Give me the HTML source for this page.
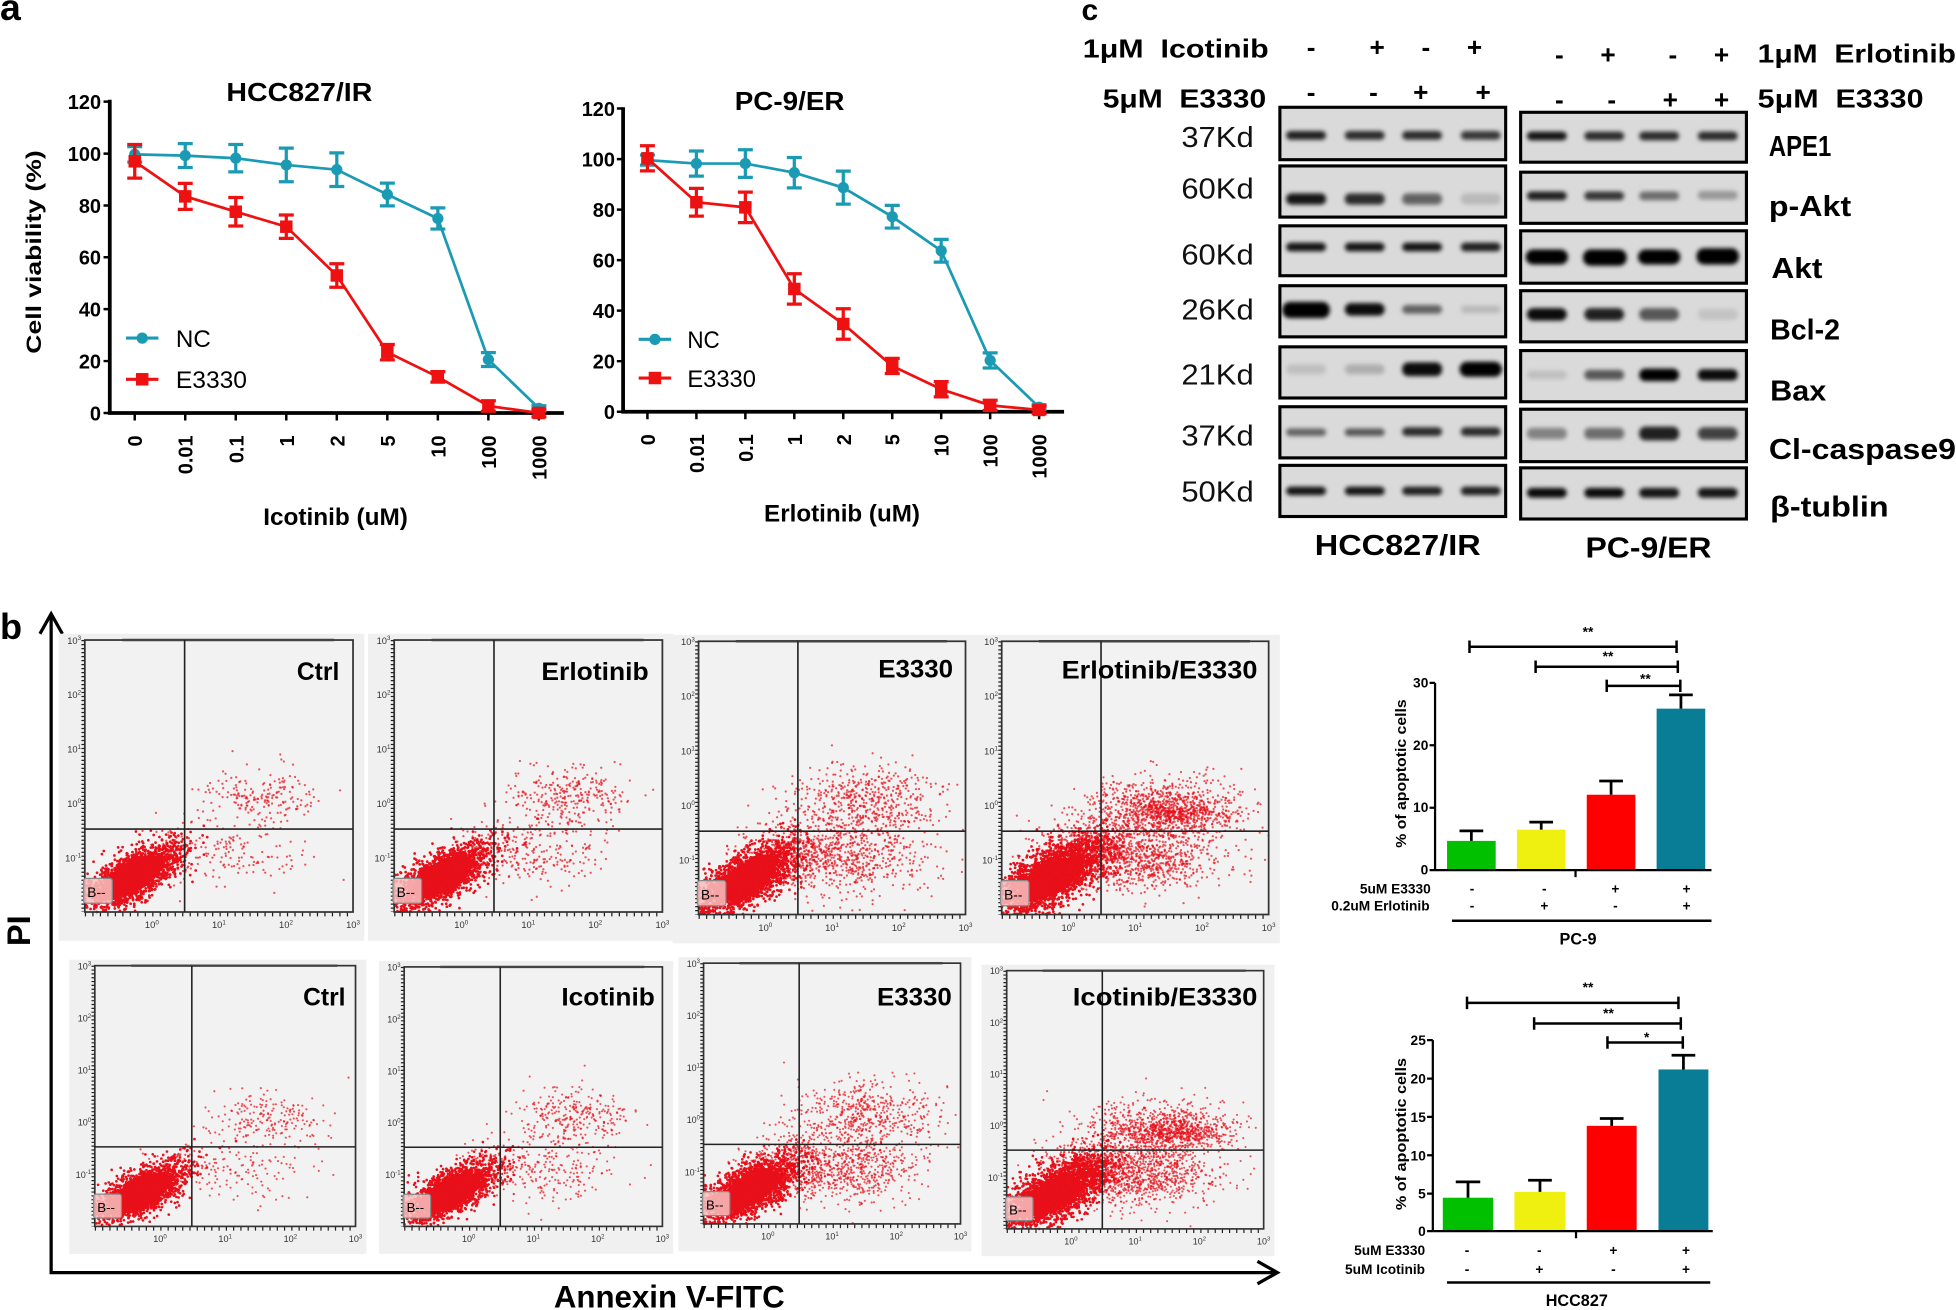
<!DOCTYPE html>
<html><head><meta charset="utf-8"><style>
html,body{margin:0;padding:0;background:#fff;}
svg{display:block;}
text{font-family:"Liberation Sans",Arial,"DejaVu Sans",sans-serif;}
</style></head><body>
<svg xmlns="http://www.w3.org/2000/svg" width="1956" height="1310" viewBox="0 0 1568 1050" preserveAspectRatio="none">
<defs>
<filter id="bl" x="-50%" y="-150%" width="200%" height="400%"><feGaussianBlur stdDeviation="1.8"/></filter>
</defs>
<rect width="1568" height="1050" fill="#fff"/>

<!-- ===== Panel letters ===== -->
<text x="0" y="16" font-size="30" font-weight="bold">a</text>
<text x="0" y="512" font-size="29" font-weight="bold">b</text>
<text x="867" y="16" font-size="24" font-weight="bold">c</text>

<!-- ===== Panel a : left chart ===== -->
<g>
<text x="240" y="81" font-size="21" font-weight="bold" text-anchor="middle" textLength="117" lengthAdjust="spacingAndGlyphs">HCC827/IR</text>
<text transform="translate(33,202) rotate(-90)" font-size="17" font-weight="bold" text-anchor="middle" textLength="163" lengthAdjust="spacingAndGlyphs">Cell viability (%)</text>
<path d="M88,80V331H452" fill="none" stroke="#000" stroke-width="3"/>
<path d="M83,81.5H88M83,123.1H88M83,164.7H88M83,206.2H88M83,247.8H88M83,289.4H88M83,331H88M108,331V337M148.5,331V337M189,331V337M229.5,331V337M270,331V337M310.5,331V337M351,331V337M391.5,331V337M432,331V337" stroke="#000" stroke-width="2"/>
<g font-size="16" font-weight="bold" text-anchor="end">
<text x="81" y="87.5">120</text><text x="81" y="129">100</text><text x="81" y="170.7">80</text><text x="81" y="212">60</text><text x="81" y="253.8">40</text><text x="81" y="295.4">20</text><text x="81" y="337">0</text>
<text transform="translate(114,349) rotate(-90)">0</text>
<text transform="translate(154.5,349) rotate(-90)">0.01</text>
<text transform="translate(195,349) rotate(-90)">0.1</text>
<text transform="translate(235.5,349) rotate(-90)">1</text>
<text transform="translate(276,349) rotate(-90)">2</text>
<text transform="translate(316.5,349) rotate(-90)">5</text>
<text transform="translate(357,349) rotate(-90)">10</text>
<text transform="translate(397.5,349) rotate(-90)">100</text>
<text transform="translate(438,349) rotate(-90)">1000</text>
</g>
<text x="269" y="421" font-size="19" font-weight="bold" text-anchor="middle" textLength="116" lengthAdjust="spacingAndGlyphs">Icotinib (uM)</text>
<!-- NC -->
<path d="M108,123.7L148.5,124.7L189,126.8L229.5,132.2L270,136L310.5,155.9L351,175.1L391.5,288.2L432,327.3" fill="none" stroke="#1a9bb3" stroke-width="2.2"/>
<path d="M108,117.5V129.9M102,117.5H114M102,129.9H114M148.5,115.1V134.3M142.5,115.1H154.5M142.5,134.3H154.5M189,115.8V137.8M183,115.8H195M183,137.8H195M229.5,118.7V145.7M223.5,118.7H235.5M223.5,145.7H235.5M270,122.5V149.5M264,122.5H276M264,149.5H276M310.5,146.8V165M304.5,146.8H316.5M304.5,165H316.5M351,166.6V183.6M345,166.6H357M345,183.6H357M391.5,282.6V293.8M385.5,282.6H397.5M385.5,293.8H397.5M432,325.2V329.4M426,325.2H438M426,329.4H438" fill="none" stroke="#1a9bb3" stroke-width="2.6"/>
<g fill="#1a9bb3"><circle cx="108" cy="123.7" r="4.5"/><circle cx="148.5" cy="124.7" r="4.5"/><circle cx="189" cy="126.8" r="4.5"/><circle cx="229.5" cy="132.2" r="4.5"/><circle cx="270" cy="136" r="4.5"/><circle cx="310.5" cy="155.9" r="4.5"/><circle cx="351" cy="175.1" r="4.5"/><circle cx="391.5" cy="288.2" r="4.5"/><circle cx="432" cy="327.3" r="4.5"/></g>
<!-- E3330 -->
<path d="M108,129.3L148.5,157.4L189,169.7L229.5,181.7L270,220.8L310.5,282.3L351,302.1L391.5,325.4L432,331" fill="none" stroke="#ee1111" stroke-width="2.2"/>
<path d="M108,115.8V142.8M102,115.8H114M102,142.8H114M148.5,147V167.8M142.5,147H154.5M142.5,167.8H154.5M189,158.3V181.1M183,158.3H195M183,181.1H195M229.5,172.3V191.1M223.5,172.3H235.5M223.5,191.1H235.5M270,211.4V230.2M264,211.4H276M264,230.2H276M310.5,276.1V288.5M304.5,276.1H316.5M304.5,288.5H316.5M351,297.9V306.3M345,297.9H357M345,306.3H357M391.5,321.2V329.6M385.5,321.2H397.5M385.5,329.6H397.5M432,327.9V334.1M426,327.9H438M426,334.1H438" fill="none" stroke="#ee1111" stroke-width="2.6"/>
<g fill="#ee1111"><rect x="103" y="124.3" width="10" height="10"/><rect x="143.5" y="152.4" width="10" height="10"/><rect x="184" y="164.7" width="10" height="10"/><rect x="224.5" y="176.7" width="10" height="10"/><rect x="265" y="215.8" width="10" height="10"/><rect x="305.5" y="277.3" width="10" height="10"/><rect x="346" y="297.1" width="10" height="10"/><rect x="386.5" y="320.4" width="10" height="10"/><rect x="427" y="326" width="10" height="10"/></g>
<!-- legend -->
<path d="M101,271H127" stroke="#1a9bb3" stroke-width="2.5"/><circle cx="114" cy="271" r="4.5" fill="#1a9bb3"/>
<path d="M101,304H127" stroke="#ee1111" stroke-width="2.5"/><rect x="109" y="299" width="10" height="10" fill="#ee1111"/>
<text x="141" y="278" font-size="19" textLength="28" lengthAdjust="spacingAndGlyphs">NC</text>
<text x="141" y="311" font-size="19" textLength="57" lengthAdjust="spacingAndGlyphs">E3330</text>
</g>

<!-- ===== Panel a : right chart ===== -->
<g>
<text x="633" y="88" font-size="21" font-weight="bold" text-anchor="middle" textLength="88" lengthAdjust="spacingAndGlyphs">PC-9/ER</text>
<path d="M499.5,86V330H853" fill="none" stroke="#000" stroke-width="3"/>
<path d="M494.5,87H499.5M494.5,127.5H499.5M494.5,168H499.5M494.5,208.5H499.5M494.5,249H499.5M494.5,289.5H499.5M494.5,330H499.5M519,330V336M558.25,330V336M597.5,330V336M636.75,330V336M676,330V336M715.25,330V336M754.5,330V336M793.75,330V336M833,330V336" stroke="#000" stroke-width="2"/>
<g font-size="16" font-weight="bold" text-anchor="end">
<text x="493" y="93">120</text><text x="493" y="133.5">100</text><text x="493" y="174">80</text><text x="493" y="214.5">60</text><text x="493" y="255">40</text><text x="493" y="295.5">20</text><text x="493" y="336">0</text>
<text transform="translate(525,348) rotate(-90)">0</text>
<text transform="translate(564.25,348) rotate(-90)">0.01</text>
<text transform="translate(603.5,348) rotate(-90)">0.1</text>
<text transform="translate(642.75,348) rotate(-90)">1</text>
<text transform="translate(682,348) rotate(-90)">2</text>
<text transform="translate(721.25,348) rotate(-90)">5</text>
<text transform="translate(760.5,348) rotate(-90)">10</text>
<text transform="translate(799.75,348) rotate(-90)">100</text>
<text transform="translate(839,348) rotate(-90)">1000</text>
</g>
<text x="675" y="418" font-size="19" font-weight="bold" text-anchor="middle" textLength="125" lengthAdjust="spacingAndGlyphs">Erlotinib (uM)</text>
<path d="M519,128.3L558.25,131.1L597.5,131.1L636.75,138.4L676,150.4L715.25,173.7L754.5,201L793.75,288.9L833,326.4" fill="none" stroke="#1a9bb3" stroke-width="2.2"/>
<path d="M519,124.2V132.4M513,124.2H525M513,132.4H525M558.25,121V141.2M552.25,121H564.25M552.25,141.2H564.25M597.5,120V142.2M591.5,120H603.5M591.5,142.2H603.5M636.75,126.2V150.6M630.75,126.2H642.75M630.75,150.6H642.75M676,137.2V163.6M670,137.2H682M670,163.6H682M715.25,164.6V182.8M709.25,164.6H721.25M709.25,182.8H721.25M754.5,191.9V210.1M748.5,191.9H760.5M748.5,210.1H760.5M793.75,282.8V295M787.75,282.8H799.75M787.75,295H799.75M833,324.4V328.4M827,324.4H839M827,328.4H839" fill="none" stroke="#1a9bb3" stroke-width="2.6"/>
<g fill="#1a9bb3"><circle cx="519" cy="128.3" r="4.5"/><circle cx="558.25" cy="131.1" r="4.5"/><circle cx="597.5" cy="131.1" r="4.5"/><circle cx="636.75" cy="138.4" r="4.5"/><circle cx="676" cy="150.4" r="4.5"/><circle cx="715.25" cy="173.7" r="4.5"/><circle cx="754.5" cy="201" r="4.5"/><circle cx="793.75" cy="288.9" r="4.5"/><circle cx="833" cy="326.4" r="4.5"/></g>
<path d="M519,126.9L558.25,162.1L597.5,166.2L636.75,231.6L676,259.7L715.25,293.3L754.5,312L793.75,324.9L833,328.6" fill="none" stroke="#ee1111" stroke-width="2.2"/>
<path d="M519,116.8V137M513,116.8H525M513,137H525M558.25,151V173.2M552.25,151H564.25M552.25,173.2H564.25M597.5,154V178.4M591.5,154H603.5M591.5,178.4H603.5M636.75,219.4V243.8M630.75,219.4H642.75M630.75,243.8H642.75M676,247.5V271.9M670,247.5H682M670,271.9H682M715.25,287.2V299.4M709.25,287.2H721.25M709.25,299.4H721.25M754.5,305.9V318.1M748.5,305.9H760.5M748.5,318.1H760.5M793.75,320.8V329M787.75,320.8H799.75M787.75,329H799.75M833,325.6V331.6M827,325.6H839M827,331.6H839" fill="none" stroke="#ee1111" stroke-width="2.6"/>
<g fill="#ee1111"><rect x="514" y="121.9" width="10" height="10"/><rect x="553.25" y="157.1" width="10" height="10"/><rect x="592.5" y="161.2" width="10" height="10"/><rect x="631.75" y="226.6" width="10" height="10"/><rect x="671" y="254.7" width="10" height="10"/><rect x="710.25" y="288.3" width="10" height="10"/><rect x="749.5" y="307" width="10" height="10"/><rect x="788.75" y="319.9" width="10" height="10"/><rect x="828" y="323.6" width="10" height="10"/></g>
<path d="M512,272H538" stroke="#1a9bb3" stroke-width="2.5"/><circle cx="525" cy="272" r="4.5" fill="#1a9bb3"/>
<path d="M512,303H538" stroke="#ee1111" stroke-width="2.5"/><rect x="520" y="298" width="10" height="10" fill="#ee1111"/>
<text x="551" y="279" font-size="19" textLength="26" lengthAdjust="spacingAndGlyphs">NC</text>
<text x="551" y="310" font-size="19" textLength="55" lengthAdjust="spacingAndGlyphs">E3330</text>
</g>

<!-- ===== Panel c : western blot ===== -->
<g font-weight="bold" font-size="21">
<text x="868" y="46" textLength="149" lengthAdjust="spacingAndGlyphs">1μM&#160; Icotinib</text>
<text x="884" y="86" textLength="131" lengthAdjust="spacingAndGlyphs">5μM&#160; E3330</text>
<text x="1409" y="50" textLength="159" lengthAdjust="spacingAndGlyphs">1μM&#160; Erlotinib</text>
<text x="1409" y="86" textLength="133" lengthAdjust="spacingAndGlyphs">5μM&#160; E3330</text>
<g text-anchor="middle">
<text x="1051" y="45">-</text><text x="1104" y="45">+</text><text x="1143" y="45">-</text><text x="1182" y="45">+</text>
<text x="1250" y="51">-</text><text x="1289" y="51">+</text><text x="1341" y="51">-</text><text x="1380" y="51">+</text>
<text x="1051" y="81">-</text><text x="1101" y="81">-</text><text x="1139" y="81">+</text><text x="1189" y="81">+</text>
<text x="1250" y="87">-</text><text x="1292" y="87">-</text><text x="1339" y="87">+</text><text x="1380" y="87">+</text>
</g>
</g>
<g font-size="23" text-anchor="end" fill="#111">
<text x="1005" y="118" textLength="58" lengthAdjust="spacingAndGlyphs">37Kd</text>
<text x="1005" y="159" textLength="58" lengthAdjust="spacingAndGlyphs">60Kd</text>
<text x="1005" y="212" textLength="58" lengthAdjust="spacingAndGlyphs">60Kd</text>
<text x="1005" y="256" textLength="58" lengthAdjust="spacingAndGlyphs">26Kd</text>
<text x="1005" y="308" textLength="58" lengthAdjust="spacingAndGlyphs">21Kd</text>
<text x="1005" y="357" textLength="58" lengthAdjust="spacingAndGlyphs">37Kd</text>
<text x="1005" y="402" textLength="58" lengthAdjust="spacingAndGlyphs">50Kd</text>
</g>
<g font-size="23" font-weight="bold">
<text x="1418" y="125" textLength="50" lengthAdjust="spacingAndGlyphs">APE1</text>
<text x="1418" y="173" textLength="66" lengthAdjust="spacingAndGlyphs">p-Akt</text>
<text x="1420" y="223" textLength="41" lengthAdjust="spacingAndGlyphs">Akt</text>
<text x="1419" y="272" textLength="56" lengthAdjust="spacingAndGlyphs">Bcl-2</text>
<text x="1419" y="321" textLength="45" lengthAdjust="spacingAndGlyphs">Bax</text>
<text x="1418" y="368" textLength="150" lengthAdjust="spacingAndGlyphs">Cl-caspase9</text>
<text x="1419" y="414" textLength="95" lengthAdjust="spacingAndGlyphs">β-tublin</text>
<text x="1054" y="445" textLength="133" lengthAdjust="spacingAndGlyphs">HCC827/IR</text>
<text x="1271" y="447" textLength="101" lengthAdjust="spacingAndGlyphs">PC-9/ER</text>
</g>
<!-- blot boxes -->
<g fill="#dadada" stroke="#000" stroke-width="2.5">
<rect x="1026" y="86" width="181" height="42"/><rect x="1026" y="133" width="181" height="41"/><rect x="1026" y="181" width="181" height="40"/><rect x="1026" y="229" width="181" height="41"/><rect x="1026" y="278" width="181" height="41"/><rect x="1026" y="326" width="181" height="41"/><rect x="1026" y="373" width="181" height="41"/>
<rect x="1219" y="90" width="181" height="40"/><rect x="1219" y="138" width="181" height="41"/><rect x="1219" y="185" width="181" height="42"/><rect x="1219" y="233" width="181" height="41"/><rect x="1219" y="281" width="181" height="41"/><rect x="1219" y="328" width="181" height="42"/><rect x="1219" y="375" width="181" height="41"/>
</g>
<g fill="#000" filter="url(#bl)">
<!-- APE1 -->
<rect x="1031" y="105" width="32" height="7" rx="3.5" fill-opacity=".85"/><rect x="1078" y="105" width="32" height="7" rx="3.5" fill-opacity=".8"/><rect x="1124" y="105" width="32" height="7" rx="3.5" fill-opacity=".8"/><rect x="1171" y="105" width="32" height="7" rx="3.5" fill-opacity=".75"/>
<rect x="1224" y="105.5" width="32" height="7" rx="3.5" fill-opacity=".9"/><rect x="1270" y="105.5" width="32" height="7" rx="3.5" fill-opacity=".8"/><rect x="1314" y="105.5" width="32" height="7" rx="3.5" fill-opacity=".8"/><rect x="1361" y="105.5" width="32" height="7" rx="3.5" fill-opacity=".8"/>
<!-- p-Akt -->
<rect x="1031" y="155" width="32" height="9" rx="4" fill-opacity=".9"/><rect x="1078" y="155" width="32" height="9" rx="4" fill-opacity=".8"/><rect x="1124" y="155" width="32" height="9" rx="4" fill-opacity=".55"/><rect x="1171" y="155" width="32" height="9" rx="4" fill-opacity=".15"/>
<rect x="1224" y="153.5" width="32" height="7" rx="3.5" fill-opacity=".85"/><rect x="1270" y="153.5" width="32" height="7" rx="3.5" fill-opacity=".75"/><rect x="1314" y="153.5" width="32" height="7" rx="3.5" fill-opacity=".5"/><rect x="1361" y="153" width="32" height="7" rx="3.5" fill-opacity=".3"/>
<!-- Akt -->
<rect x="1031" y="194.5" width="32" height="7" rx="3.5" fill-opacity=".9"/><rect x="1078" y="194.5" width="32" height="7" rx="3.5" fill-opacity=".9"/><rect x="1124" y="194.5" width="32" height="7" rx="3.5" fill-opacity=".9"/><rect x="1171" y="194.5" width="32" height="7" rx="3.5" fill-opacity=".85"/>
<rect x="1223" y="200" width="34" height="12" rx="6"/><rect x="1269" y="200" width="35" height="13" rx="6"/><rect x="1313" y="200" width="34" height="12" rx="6"/><rect x="1360" y="199" width="34" height="13" rx="6"/>
<!-- Bcl-2 -->
<rect x="1028" y="242" width="38" height="13" rx="6"/><rect x="1078" y="243" width="32" height="10" rx="5" fill-opacity=".95"/><rect x="1124" y="244.5" width="32" height="7" rx="3.5" fill-opacity=".55"/><rect x="1171" y="245" width="32" height="6" rx="3" fill-opacity=".15"/>
<rect x="1224" y="247" width="32" height="10" rx="5" fill-opacity=".95"/><rect x="1270" y="247" width="32" height="10" rx="5" fill-opacity=".85"/><rect x="1314" y="247" width="32" height="10" rx="5" fill-opacity=".6"/><rect x="1361" y="247.5" width="32" height="9" rx="4" fill-opacity=".1"/>
<!-- Bax -->
<rect x="1031" y="292" width="32" height="8" rx="4" fill-opacity=".12"/><rect x="1078" y="292" width="32" height="8" rx="4" fill-opacity=".2"/><rect x="1124" y="290.5" width="32" height="11" rx="5" fill-opacity=".95"/><rect x="1170" y="290" width="34" height="12" rx="6"/>
<rect x="1224" y="297" width="32" height="7" rx="3.5" fill-opacity=".12"/><rect x="1270" y="296.5" width="32" height="8" rx="4" fill-opacity=".6"/><rect x="1314" y="295.5" width="32" height="10" rx="5"/><rect x="1361" y="296" width="32" height="9" rx="4" fill-opacity=".95"/>
<!-- Cl-caspase9 -->
<rect x="1031" y="343.5" width="32" height="6" rx="3" fill-opacity=".55"/><rect x="1078" y="343.5" width="32" height="6" rx="3" fill-opacity=".6"/><rect x="1124" y="342.5" width="32" height="7" rx="3.5" fill-opacity=".8"/><rect x="1171" y="342.5" width="32" height="7" rx="3.5" fill-opacity=".8"/>
<rect x="1224" y="343" width="32" height="9" rx="4" fill-opacity=".4"/><rect x="1270" y="343" width="32" height="9" rx="4" fill-opacity=".5"/><rect x="1314" y="342" width="32" height="11" rx="5" fill-opacity=".85"/><rect x="1361" y="342.5" width="32" height="10" rx="5" fill-opacity=".7"/>
<!-- beta-tubulin -->
<rect x="1031" y="390" width="32" height="7" rx="3.5" fill-opacity=".9"/><rect x="1078" y="390" width="32" height="7" rx="3.5" fill-opacity=".9"/><rect x="1124" y="390" width="32" height="7" rx="3.5" fill-opacity=".85"/><rect x="1171" y="390" width="32" height="7" rx="3.5" fill-opacity=".85"/>
<rect x="1224" y="391" width="32" height="8" rx="4" fill-opacity=".95"/><rect x="1270" y="391" width="32" height="8" rx="4" fill-opacity=".95"/><rect x="1314" y="391" width="32" height="8" rx="4" fill-opacity=".9"/><rect x="1361" y="391" width="32" height="8" rx="4" fill-opacity=".9"/>
</g>

<!-- ===== Panel b : flow cytometry ===== -->
<path d="M41,494V1020H1022" fill="none" stroke="#000" stroke-width="2.6"/>
<path d="M32,508L41,492L50,508M1008,1011L1024,1020L1008,1029" fill="none" stroke="#000" stroke-width="2.6"/>
<text transform="translate(24,746) rotate(-90)" font-size="26" font-weight="bold" text-anchor="middle">PI</text>
<text x="444" y="1048" font-size="25" font-weight="bold" textLength="185" lengthAdjust="spacingAndGlyphs">Annexin V-FITC</text>

<g transform="translate(68,513) scale(1,1)">
<rect x="-21" y="-5" width="245" height="246" fill="#f0f0f0"/>
<rect x="0" y="0" width="215" height="218" fill="#f2f2f2"/>
<ellipse cx="38" cy="190" rx="27" ry="12" transform="rotate(-30 38 190)" fill="#ee0a0a"/>
<g class="dots ctrl" fill="#e8101a"></g>
<rect x="0" y="0" width="215" height="218" fill="none" stroke="#333" stroke-width="1.4"/>
<path d="M30,0H200" stroke="#444" stroke-width="2"/>
<path d="M80,0V218M0,151.5H215" stroke="#222" stroke-width="1.3"/>
<path d="M-1.5,0V218" stroke="#222" stroke-width="2.5" stroke-dasharray="1 2.2"/>
<path d="M0,220H215" stroke="#222" stroke-width="3" stroke-dasharray="1 5"/>
<rect x="-1" y="191" width="23" height="20" rx="2" fill="#f7c0c0" fill-opacity=".85" stroke="#888"/><text x="2" y="206" font-size="11">B--</text>
<g font-size="7.5" fill="#333" text-anchor="end"><text x="-3" y="3">10<tspan dy="-3" font-size="5">3</tspan></text><text x="-3" y="46.6">10<tspan dy="-3" font-size="5">2</tspan></text><text x="-3" y="90.2">10<tspan dy="-3" font-size="5">1</tspan></text><text x="-3" y="133.8">10<tspan dy="-3" font-size="5">0</tspan></text><text x="-3" y="177.4">10<tspan dy="-3" font-size="5">-1</tspan></text></g>
<g font-size="7.5" fill="#333" text-anchor="middle"><text x="53.75" y="231">10<tspan dy="-3" font-size="5">0</tspan></text><text x="107.5" y="231">10<tspan dy="-3" font-size="5">1</tspan></text><text x="161.25" y="231">10<tspan dy="-3" font-size="5">2</tspan></text><text x="215" y="231">10<tspan dy="-3" font-size="5">3</tspan></text></g>
</g>

<g transform="translate(316,513) scale(1,1)">
<rect x="-21" y="-5" width="245" height="246" fill="#f0f0f0"/>
<rect x="0" y="0" width="215" height="218" fill="#f2f2f2"/>
<ellipse cx="38" cy="190" rx="27" ry="12" transform="rotate(-30 38 190)" fill="#ee0a0a"/>
<g class="dots mid" fill="#e8101a"></g>
<rect x="0" y="0" width="215" height="218" fill="none" stroke="#333" stroke-width="1.4"/>
<path d="M30,0H200" stroke="#444" stroke-width="2"/>
<path d="M80,0V218M0,151.5H215" stroke="#222" stroke-width="1.3"/>
<path d="M-1.5,0V218" stroke="#222" stroke-width="2.5" stroke-dasharray="1 2.2"/>
<path d="M0,220H215" stroke="#222" stroke-width="3" stroke-dasharray="1 5"/>
<rect x="-1" y="191" width="23" height="20" rx="2" fill="#f7c0c0" fill-opacity=".85" stroke="#888"/><text x="2" y="206" font-size="11">B--</text>
<g font-size="7.5" fill="#333" text-anchor="end"><text x="-3" y="3">10<tspan dy="-3" font-size="5">3</tspan></text><text x="-3" y="46.6">10<tspan dy="-3" font-size="5">2</tspan></text><text x="-3" y="90.2">10<tspan dy="-3" font-size="5">1</tspan></text><text x="-3" y="133.8">10<tspan dy="-3" font-size="5">0</tspan></text><text x="-3" y="177.4">10<tspan dy="-3" font-size="5">-1</tspan></text></g>
<g font-size="7.5" fill="#333" text-anchor="middle"><text x="53.75" y="231">10<tspan dy="-3" font-size="5">0</tspan></text><text x="107.5" y="231">10<tspan dy="-3" font-size="5">1</tspan></text><text x="161.25" y="231">10<tspan dy="-3" font-size="5">2</tspan></text><text x="215" y="231">10<tspan dy="-3" font-size="5">3</tspan></text></g>
</g>

<g transform="translate(560,514) scale(0.9953,1.0046)">
<rect x="-21" y="-5" width="245" height="246" fill="#f0f0f0"/>
<rect x="0" y="0" width="215" height="218" fill="#f2f2f2"/>
<ellipse cx="38" cy="190" rx="27" ry="12" transform="rotate(-30 38 190)" fill="#ee0a0a"/>
<g class="dots e3" fill="#e8101a"></g>
<rect x="0" y="0" width="215" height="218" fill="none" stroke="#333" stroke-width="1.4"/>
<path d="M30,0H200" stroke="#444" stroke-width="2"/>
<path d="M80,0V218M0,151.5H215" stroke="#222" stroke-width="1.3"/>
<path d="M-1.5,0V218" stroke="#222" stroke-width="2.5" stroke-dasharray="1 2.2"/>
<path d="M0,220H215" stroke="#222" stroke-width="3" stroke-dasharray="1 5"/>
<rect x="-1" y="191" width="23" height="20" rx="2" fill="#f7c0c0" fill-opacity=".85" stroke="#888"/><text x="2" y="206" font-size="11">B--</text>
<g font-size="7.5" fill="#333" text-anchor="end"><text x="-3" y="3">10<tspan dy="-3" font-size="5">3</tspan></text><text x="-3" y="46.6">10<tspan dy="-3" font-size="5">2</tspan></text><text x="-3" y="90.2">10<tspan dy="-3" font-size="5">1</tspan></text><text x="-3" y="133.8">10<tspan dy="-3" font-size="5">0</tspan></text><text x="-3" y="177.4">10<tspan dy="-3" font-size="5">-1</tspan></text></g>
<g font-size="7.5" fill="#333" text-anchor="middle"><text x="53.75" y="231">10<tspan dy="-3" font-size="5">0</tspan></text><text x="107.5" y="231">10<tspan dy="-3" font-size="5">1</tspan></text><text x="161.25" y="231">10<tspan dy="-3" font-size="5">2</tspan></text><text x="215" y="231">10<tspan dy="-3" font-size="5">3</tspan></text></g>
</g>

<g transform="translate(803,514) scale(0.9953,1.0046)">
<rect x="-21" y="-5" width="245" height="246" fill="#f0f0f0"/>
<rect x="0" y="0" width="215" height="218" fill="#f2f2f2"/>
<ellipse cx="38" cy="190" rx="27" ry="12" transform="rotate(-30 38 190)" fill="#ee0a0a"/>
<g class="dots co" fill="#e8101a"></g>
<rect x="0" y="0" width="215" height="218" fill="none" stroke="#333" stroke-width="1.4"/>
<path d="M30,0H200" stroke="#444" stroke-width="2"/>
<path d="M80,0V218M0,151.5H215" stroke="#222" stroke-width="1.3"/>
<path d="M-1.5,0V218" stroke="#222" stroke-width="2.5" stroke-dasharray="1 2.2"/>
<path d="M0,220H215" stroke="#222" stroke-width="3" stroke-dasharray="1 5"/>
<rect x="-1" y="191" width="23" height="20" rx="2" fill="#f7c0c0" fill-opacity=".85" stroke="#888"/><text x="2" y="206" font-size="11">B--</text>
<g font-size="7.5" fill="#333" text-anchor="end"><text x="-3" y="3">10<tspan dy="-3" font-size="5">3</tspan></text><text x="-3" y="46.6">10<tspan dy="-3" font-size="5">2</tspan></text><text x="-3" y="90.2">10<tspan dy="-3" font-size="5">1</tspan></text><text x="-3" y="133.8">10<tspan dy="-3" font-size="5">0</tspan></text><text x="-3" y="177.4">10<tspan dy="-3" font-size="5">-1</tspan></text></g>
<g font-size="7.5" fill="#333" text-anchor="middle"><text x="53.75" y="231">10<tspan dy="-3" font-size="5">0</tspan></text><text x="107.5" y="231">10<tspan dy="-3" font-size="5">1</tspan></text><text x="161.25" y="231">10<tspan dy="-3" font-size="5">2</tspan></text><text x="215" y="231">10<tspan dy="-3" font-size="5">3</tspan></text></g>
</g>

<g transform="translate(76,774) scale(0.9721,0.9587)">
<rect x="-21" y="-5" width="245" height="246" fill="#f0f0f0"/>
<rect x="0" y="0" width="215" height="218" fill="#f2f2f2"/>
<ellipse cx="38" cy="190" rx="27" ry="12" transform="rotate(-30 38 190)" fill="#ee0a0a"/>
<g class="dots ctrl" fill="#e8101a"></g>
<rect x="0" y="0" width="215" height="218" fill="none" stroke="#333" stroke-width="1.4"/>
<path d="M30,0H200" stroke="#444" stroke-width="2"/>
<path d="M80,0V218M0,151.5H215" stroke="#222" stroke-width="1.3"/>
<path d="M-1.5,0V218" stroke="#222" stroke-width="2.5" stroke-dasharray="1 2.2"/>
<path d="M0,220H215" stroke="#222" stroke-width="3" stroke-dasharray="1 5"/>
<rect x="-1" y="191" width="23" height="20" rx="2" fill="#f7c0c0" fill-opacity=".85" stroke="#888"/><text x="2" y="206" font-size="11">B--</text>
<g font-size="7.5" fill="#333" text-anchor="end"><text x="-3" y="3">10<tspan dy="-3" font-size="5">3</tspan></text><text x="-3" y="46.6">10<tspan dy="-3" font-size="5">2</tspan></text><text x="-3" y="90.2">10<tspan dy="-3" font-size="5">1</tspan></text><text x="-3" y="133.8">10<tspan dy="-3" font-size="5">0</tspan></text><text x="-3" y="177.4">10<tspan dy="-3" font-size="5">-1</tspan></text></g>
<g font-size="7.5" fill="#333" text-anchor="middle"><text x="53.75" y="231">10<tspan dy="-3" font-size="5">0</tspan></text><text x="107.5" y="231">10<tspan dy="-3" font-size="5">1</tspan></text><text x="161.25" y="231">10<tspan dy="-3" font-size="5">2</tspan></text><text x="215" y="231">10<tspan dy="-3" font-size="5">3</tspan></text></g>
</g>

<g transform="translate(324,775) scale(0.9628,0.9541)">
<rect x="-21" y="-5" width="245" height="246" fill="#f0f0f0"/>
<rect x="0" y="0" width="215" height="218" fill="#f2f2f2"/>
<ellipse cx="38" cy="190" rx="27" ry="12" transform="rotate(-30 38 190)" fill="#ee0a0a"/>
<g class="dots mid" fill="#e8101a"></g>
<rect x="0" y="0" width="215" height="218" fill="none" stroke="#333" stroke-width="1.4"/>
<path d="M30,0H200" stroke="#444" stroke-width="2"/>
<path d="M80,0V218M0,151.5H215" stroke="#222" stroke-width="1.3"/>
<path d="M-1.5,0V218" stroke="#222" stroke-width="2.5" stroke-dasharray="1 2.2"/>
<path d="M0,220H215" stroke="#222" stroke-width="3" stroke-dasharray="1 5"/>
<rect x="-1" y="191" width="23" height="20" rx="2" fill="#f7c0c0" fill-opacity=".85" stroke="#888"/><text x="2" y="206" font-size="11">B--</text>
<g font-size="7.5" fill="#333" text-anchor="end"><text x="-3" y="3">10<tspan dy="-3" font-size="5">3</tspan></text><text x="-3" y="46.6">10<tspan dy="-3" font-size="5">2</tspan></text><text x="-3" y="90.2">10<tspan dy="-3" font-size="5">1</tspan></text><text x="-3" y="133.8">10<tspan dy="-3" font-size="5">0</tspan></text><text x="-3" y="177.4">10<tspan dy="-3" font-size="5">-1</tspan></text></g>
<g font-size="7.5" fill="#333" text-anchor="middle"><text x="53.75" y="231">10<tspan dy="-3" font-size="5">0</tspan></text><text x="107.5" y="231">10<tspan dy="-3" font-size="5">1</tspan></text><text x="161.25" y="231">10<tspan dy="-3" font-size="5">2</tspan></text><text x="215" y="231">10<tspan dy="-3" font-size="5">3</tspan></text></g>
</g>

<g transform="translate(564,772) scale(0.9581,0.9587)">
<rect x="-21" y="-5" width="245" height="246" fill="#f0f0f0"/>
<rect x="0" y="0" width="215" height="218" fill="#f2f2f2"/>
<ellipse cx="38" cy="190" rx="27" ry="12" transform="rotate(-30 38 190)" fill="#ee0a0a"/>
<g class="dots e3" fill="#e8101a"></g>
<rect x="0" y="0" width="215" height="218" fill="none" stroke="#333" stroke-width="1.4"/>
<path d="M30,0H200" stroke="#444" stroke-width="2"/>
<path d="M80,0V218M0,151.5H215" stroke="#222" stroke-width="1.3"/>
<path d="M-1.5,0V218" stroke="#222" stroke-width="2.5" stroke-dasharray="1 2.2"/>
<path d="M0,220H215" stroke="#222" stroke-width="3" stroke-dasharray="1 5"/>
<rect x="-1" y="191" width="23" height="20" rx="2" fill="#f7c0c0" fill-opacity=".85" stroke="#888"/><text x="2" y="206" font-size="11">B--</text>
<g font-size="7.5" fill="#333" text-anchor="end"><text x="-3" y="3">10<tspan dy="-3" font-size="5">3</tspan></text><text x="-3" y="46.6">10<tspan dy="-3" font-size="5">2</tspan></text><text x="-3" y="90.2">10<tspan dy="-3" font-size="5">1</tspan></text><text x="-3" y="133.8">10<tspan dy="-3" font-size="5">0</tspan></text><text x="-3" y="177.4">10<tspan dy="-3" font-size="5">-1</tspan></text></g>
<g font-size="7.5" fill="#333" text-anchor="middle"><text x="53.75" y="231">10<tspan dy="-3" font-size="5">0</tspan></text><text x="107.5" y="231">10<tspan dy="-3" font-size="5">1</tspan></text><text x="161.25" y="231">10<tspan dy="-3" font-size="5">2</tspan></text><text x="215" y="231">10<tspan dy="-3" font-size="5">3</tspan></text></g>
</g>

<g transform="translate(807,778) scale(0.9581,0.9495)">
<rect x="-21" y="-5" width="245" height="246" fill="#f0f0f0"/>
<rect x="0" y="0" width="215" height="218" fill="#f2f2f2"/>
<ellipse cx="38" cy="190" rx="27" ry="12" transform="rotate(-30 38 190)" fill="#ee0a0a"/>
<g class="dots co" fill="#e8101a"></g>
<rect x="0" y="0" width="215" height="218" fill="none" stroke="#333" stroke-width="1.4"/>
<path d="M30,0H200" stroke="#444" stroke-width="2"/>
<path d="M80,0V218M0,151.5H215" stroke="#222" stroke-width="1.3"/>
<path d="M-1.5,0V218" stroke="#222" stroke-width="2.5" stroke-dasharray="1 2.2"/>
<path d="M0,220H215" stroke="#222" stroke-width="3" stroke-dasharray="1 5"/>
<rect x="-1" y="191" width="23" height="20" rx="2" fill="#f7c0c0" fill-opacity=".85" stroke="#888"/><text x="2" y="206" font-size="11">B--</text>
<g font-size="7.5" fill="#333" text-anchor="end"><text x="-3" y="3">10<tspan dy="-3" font-size="5">3</tspan></text><text x="-3" y="46.6">10<tspan dy="-3" font-size="5">2</tspan></text><text x="-3" y="90.2">10<tspan dy="-3" font-size="5">1</tspan></text><text x="-3" y="133.8">10<tspan dy="-3" font-size="5">0</tspan></text><text x="-3" y="177.4">10<tspan dy="-3" font-size="5">-1</tspan></text></g>
<g font-size="7.5" fill="#333" text-anchor="middle"><text x="53.75" y="231">10<tspan dy="-3" font-size="5">0</tspan></text><text x="107.5" y="231">10<tspan dy="-3" font-size="5">1</tspan></text><text x="161.25" y="231">10<tspan dy="-3" font-size="5">2</tspan></text><text x="215" y="231">10<tspan dy="-3" font-size="5">3</tspan></text></g>
</g>

<!-- flow labels -->
<g font-size="20" font-weight="bold" text-anchor="end">
<text x="272" y="545" textLength="34" lengthAdjust="spacingAndGlyphs">Ctrl</text>
<text x="520" y="545" textLength="86" lengthAdjust="spacingAndGlyphs">Erlotinib</text>
<text x="764" y="543" textLength="60" lengthAdjust="spacingAndGlyphs">E3330</text>
<text x="1008" y="544" textLength="157" lengthAdjust="spacingAndGlyphs">Erlotinib/E3330</text>
<text x="277" y="806" textLength="34" lengthAdjust="spacingAndGlyphs">Ctrl</text>
<text x="525" y="806" textLength="75" lengthAdjust="spacingAndGlyphs">Icotinib</text>
<text x="763" y="806" textLength="60" lengthAdjust="spacingAndGlyphs">E3330</text>
<text x="1008" y="806" textLength="148" lengthAdjust="spacingAndGlyphs">Icotinib/E3330</text>
</g>

<!-- ===== Bar chart PC-9 ===== -->
<g>
<rect x="1160" y="674" width="39" height="23.4" fill="#00c000"/>
<rect x="1216" y="665" width="39" height="32.4" fill="#f0f010"/>
<rect x="1272" y="637" width="39" height="60.4" fill="#ff0000"/>
<rect x="1328" y="568" width="39" height="129.4" fill="#0a7d96"/>
<path d="M1179.5,674V666M1170,666H1189M1235.5,665V659M1226,659H1245M1291.5,637V626M1282,626H1301M1347.5,568V557M1338,557H1357" stroke="#000" stroke-width="2.2" fill="none"/>
<path d="M1150.4,547.3V697.4H1372M1146,547.3H1150.4M1146,597.3H1150.4M1146,647.4H1150.4M1146,697.4H1150.4M1263,697.4V703" stroke="#000" stroke-width="1.8" fill="none"/>
<g font-size="11" font-weight="bold" text-anchor="end"><text x="1145" y="551">30</text><text x="1145" y="601">20</text><text x="1145" y="651">10</text><text x="1145" y="701">0</text>
<text x="1147" y="716">5uM E3330</text><text x="1146" y="730">0.2uM Erlotinib</text></g>
<g font-size="11" font-weight="bold" text-anchor="middle"><text x="1180" y="716">-</text><text x="1238" y="716">-</text><text x="1295" y="716">+</text><text x="1352" y="716">+</text>
<text x="1180" y="730">-</text><text x="1238" y="730">+</text><text x="1295" y="730">-</text><text x="1352" y="730">+</text>
<text x="1273" y="510">**</text><text x="1289" y="530">**</text><text x="1319" y="548">**</text></g>
<path d="M1164,738H1372" stroke="#000" stroke-width="2"/>
<text x="1265" y="757" font-size="13" font-weight="bold" text-anchor="middle">PC-9</text>
<text transform="translate(1127,620) rotate(-90)" font-size="11.5" font-weight="bold" text-anchor="middle" textLength="119" lengthAdjust="spacingAndGlyphs">% of apoptotic cells</text>
<path d="M1178,518.4H1344M1178,513.4V523.4M1344,513.4V523.4M1231,534.4H1345M1231,529.4V539.4M1345,529.4V539.4M1288,549.7H1347M1288,544.7V554.7M1347,544.7V554.7" stroke="#000" stroke-width="2" fill="none"/>
</g>

<!-- ===== Bar chart HCC827 ===== -->
<g>
<rect x="1156.6" y="960" width="40.4" height="26.8" fill="#00c000"/>
<rect x="1214" y="955.3" width="41" height="31.5" fill="#f0f010"/>
<rect x="1272" y="902.4" width="40" height="84.4" fill="#ff0000"/>
<rect x="1329.5" y="857.2" width="40" height="129.6" fill="#0a7d96"/>
<path d="M1176.8,960V947.3M1167,947.3H1186.6M1234.5,955.3V946M1225,946H1244M1292,902.4V896.5M1282.5,896.5H1301.5M1349.5,857.2V845.8M1340,845.8H1359" stroke="#000" stroke-width="2.2" fill="none"/>
<path d="M1148.6,833.7V986.8H1373M1144,833.7H1148.6M1144,864.5H1148.6M1144,895.2H1148.6M1144,926H1148.6M1144,956.7H1148.6M1144,986.8H1148.6M1263.4,986.8V992.5" stroke="#000" stroke-width="1.8" fill="none"/>
<g font-size="11" font-weight="bold" text-anchor="end"><text x="1143" y="837.7">25</text><text x="1143" y="868.5">20</text><text x="1143" y="899.2">15</text><text x="1143" y="930">10</text><text x="1143" y="960.7">5</text><text x="1143" y="990.8">0</text>
<text x="1142.4" y="1006">5uM E3330</text><text x="1142.4" y="1021">5uM Icotinib</text></g>
<g font-size="11" font-weight="bold" text-anchor="middle"><text x="1176" y="1006">-</text><text x="1234" y="1006">-</text><text x="1293.4" y="1006">+</text><text x="1351.6" y="1006">+</text>
<text x="1176" y="1021">-</text><text x="1234" y="1021">+</text><text x="1293.4" y="1021">-</text><text x="1351.6" y="1021">+</text>
<text x="1273" y="795">**</text><text x="1289.4" y="816">**</text><text x="1320" y="835">*</text></g>
<path d="M1160,1028H1371" stroke="#000" stroke-width="2"/>
<text x="1264" y="1047" font-size="13" font-weight="bold" text-anchor="middle">HCC827</text>
<text transform="translate(1127,909) rotate(-90)" font-size="11.5" font-weight="bold" text-anchor="middle" textLength="122" lengthAdjust="spacingAndGlyphs">% of apoptotic cells</text>
<path d="M1176,803.8H1345.5M1176,798.8V808.8M1345.5,798.8V808.8M1229.8,820.4H1347.4M1229.8,815.4V825.4M1347.4,815.4V825.4M1288.6,835.6H1349M1288.6,830.6V840.6M1349,830.6V840.6" stroke="#000" stroke-width="2" fill="none"/>
</g>
</svg>
<script>
(function(){
var s=2463534242;
function r(){s^=s<<13;s>>>=0;s^=s>>>17;s^=s<<5;s>>>=0;return s/4294967296;}
function g(){return Math.sqrt(-2*Math.log(r()+1e-12))*Math.cos(6.2831853*r());}
var P={
 ctrl:{d:[2200,38,190,20,8],c:[[200,140,126,24,11],[130,124,172,28,12],[60,74,166,14,10]]},
 mid:{d:[2200,38,190,20,8],c:[[300,138,126,25,12],[200,118,172,28,13],[100,75,166,16,10]]},
 e3:{d:[2400,38,190,21,9],c:[[550,136,128,30,15],[650,118,172,32,15],[300,72,168,18,12]]},
 co:{d:[2600,40,188,23,10],c:[[800,128,134,32,12],[350,140,137,22,5],[900,112,172,32,13],[450,72,166,20,12]]}
};
var gs=document.querySelectorAll('g.dots');
for(var k=0;k<gs.length;k++){
 var el=gs[k],cl=el.getAttribute('class').split(' ')[1],p=P[cl],h=[],i,x,y,a,b;
 var d=p.d;
 for(i=0;i<d[0];i++){a=g()*d[3];b=g()*d[4];x=d[1]+a*0.866+b*0.5;y=d[2]-a*0.5+b*0.866;
  if(x<0||x>215||y<0||y>218)continue;h.push('<circle cx="'+x.toFixed(1)+'" cy="'+y.toFixed(1)+'" r="1.1"/>');}
 for(var j=0;j<p.c.length;j++){var c=p.c[j];
  for(i=0;i<c[0];i++){x=c[1]+g()*c[3];y=c[2]+g()*c[4];
   if(x<0||x>215||y<0||y>218)continue;h.push('<circle cx="'+x.toFixed(1)+'" cy="'+y.toFixed(1)+'" r="0.9" fill-opacity="0.7"/>');}}
 el.innerHTML=h.join('');
}
})();
</script>
</body></html>
